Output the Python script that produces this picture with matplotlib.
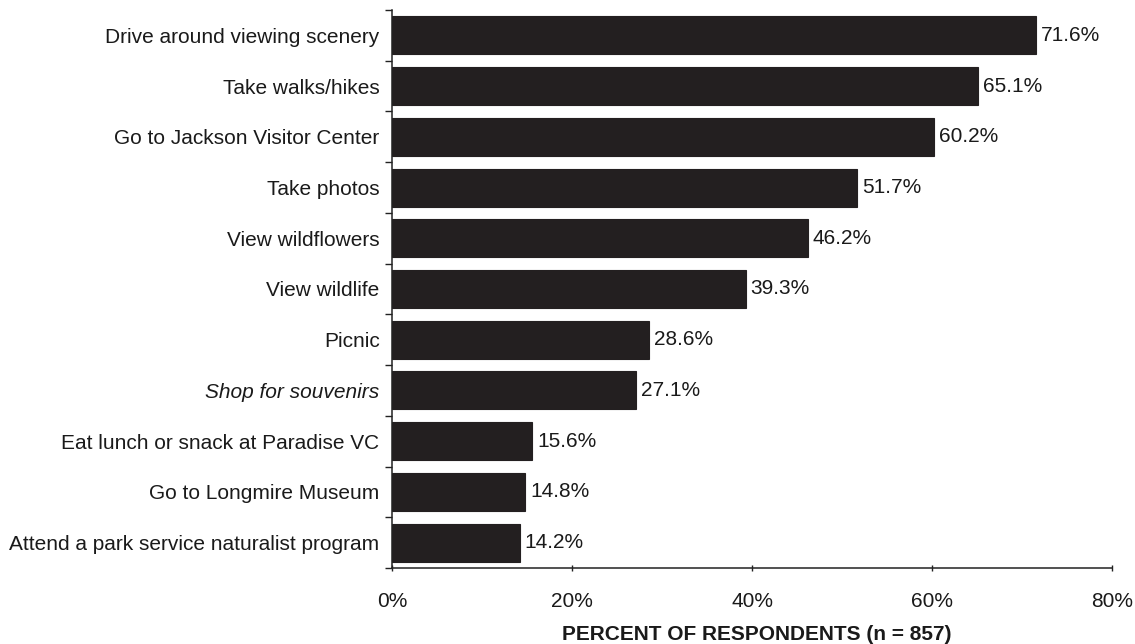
import matplotlib
matplotlib.use("Agg")
import matplotlib.pyplot as plt
import numpy as np

plt.rcParams['font.family'] = ['Liberation Sans', 'DejaVu Sans']

activities = [
    "Drive around viewing scenery",
    "Take walks/hikes",
    "Go to Jackson Visitor Center",
    "Take photos",
    "View wildflowers",
    "View wildlife",
    "Picnic",
    "Shop for souvenirs",
    "Eat lunch or snack at Paradise VC",
    "Go to Longmire Museum",
    "Attend a park service naturalist program",
]
percents = [71.6, 65.1, 60.2, 51.7, 46.2, 39.3, 28.6, 27.1, 15.6, 14.8, 14.2]
xticks = [0, 20, 40, 60, 80]
xtick_labels = ["0%", "20%", "40%", "60%", "80%"]

fig = plt.figure(figsize=(11.35, 6.44), dpi=100)
ax = fig.add_axes([392 / 1135, 1 - 568 / 644, 720 / 1135, 558 / 644])

ypos = np.arange(len(activities))
bar_color = "#231f20"
ax.barh(ypos, percents, height=0.75, color=bar_color, edgecolor=bar_color, linewidth=0.8)

for y, v in zip(ypos, percents):
    ax.text(v + 0.55, y, f"{v:.1f}%", va="center", ha="left", fontsize=15, color="#1a1a1a")

ax.set_ylim(len(activities) - 0.5, -0.5)
ax.set_xlim(0, 80)

ax.set_yticks(ypos)
ax.set_yticklabels(activities, fontsize=15, color="#1a1a1a")
for lbl in ax.get_yticklabels():
    if lbl.get_text() == "Shop for souvenirs":
        lbl.set_style("italic")
ax.tick_params(axis="y", which="major", length=0, pad=9)
ax.set_yticks(np.arange(-0.5, len(activities), 1.0), minor=True)
ax.tick_params(axis="y", which="minor", length=5, width=1, direction="out", color="#222222")

ax.set_xticks(xticks)
ax.set_xticklabels(xtick_labels, fontsize=15, color="#1a1a1a")
ax.tick_params(axis="x", length=4, width=1, direction="inout", pad=15, color="#222222")

for side in ("top", "right"):
    ax.spines[side].set_visible(False)
for side in ("left", "bottom"):
    ax.spines[side].set_linewidth(1.1)
    ax.spines[side].set_color("#222222")

fig.text(757 / 1135, 1 - 634 / 644, "PERCENT OF RESPONDENTS (n = 857)",
         ha="center", va="center", fontsize=15, fontweight="bold", color="#1a1a1a")

fig.savefig("out.png", dpi=100, facecolor="white")
